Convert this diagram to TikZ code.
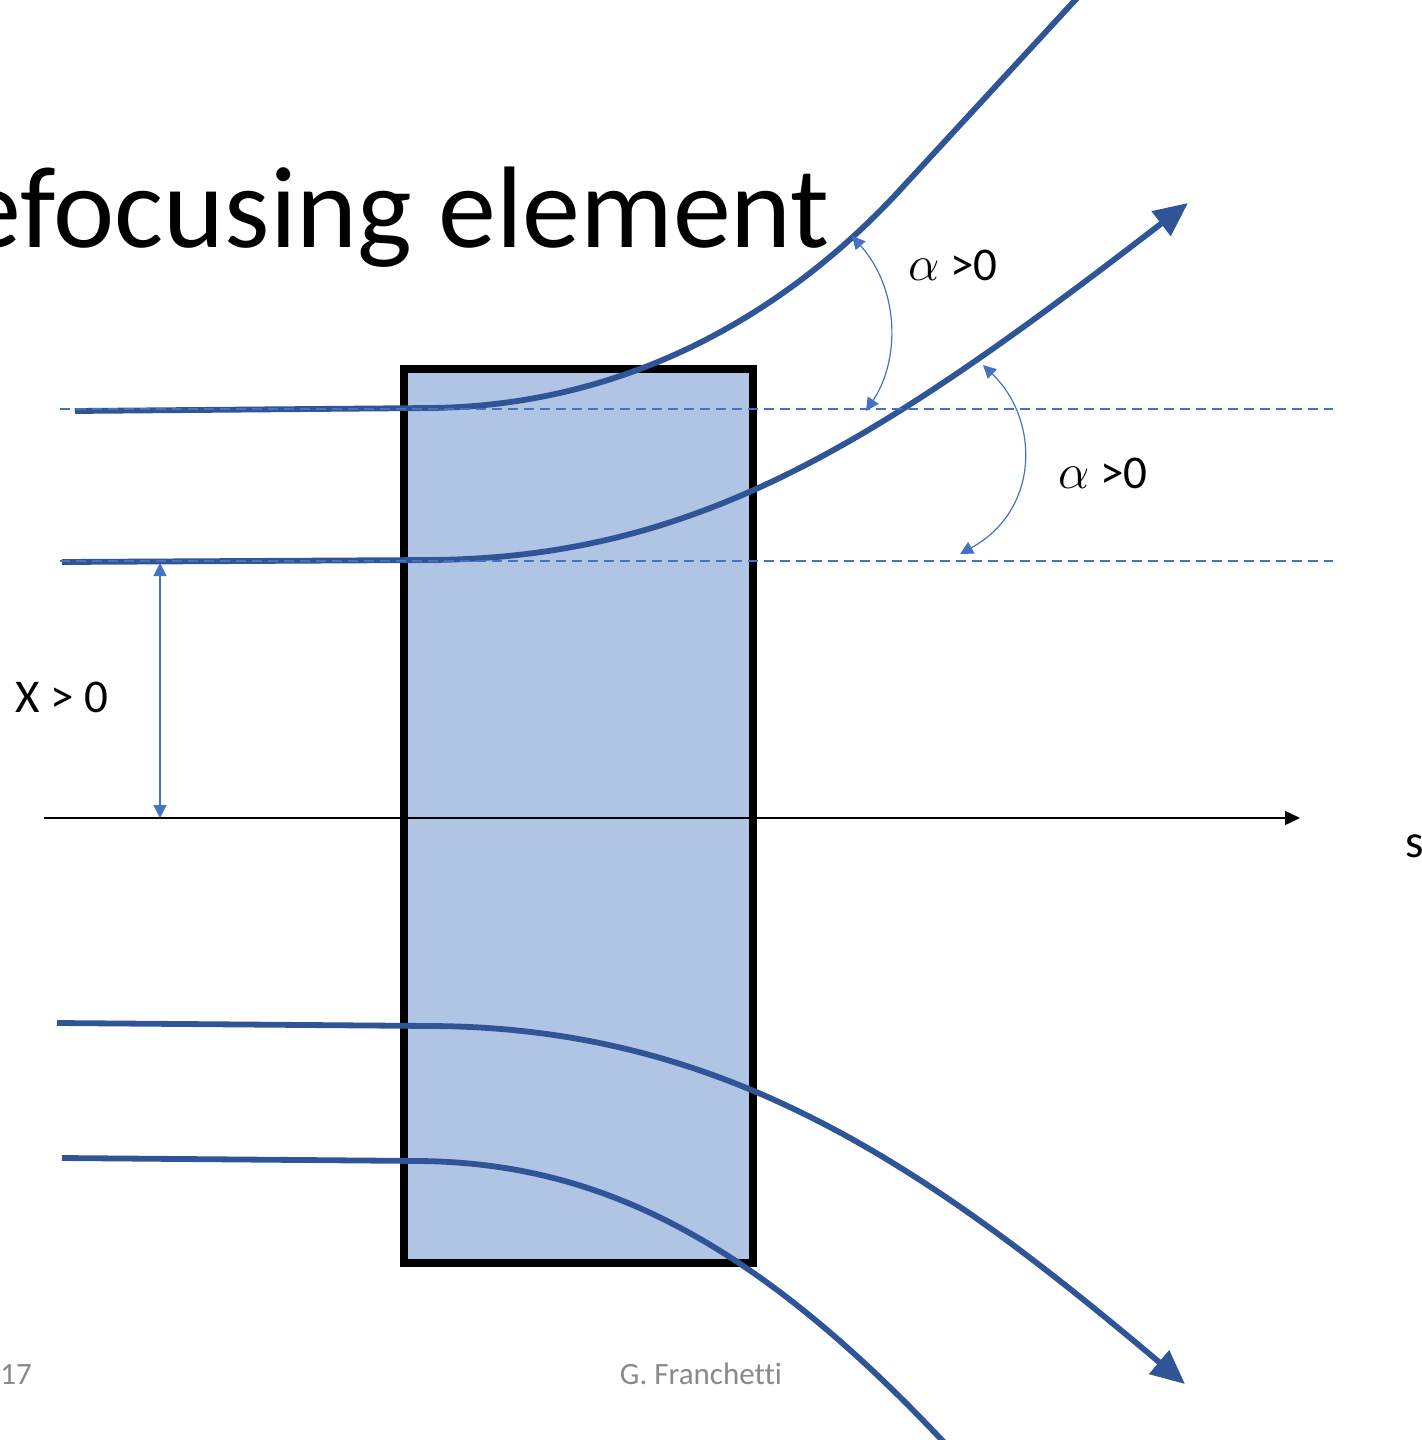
\documentclass[tikz,border=0pt]{standalone}
\usepackage{fontspec}
\setmainfont{Carlito}[Ligatures={NoCommon}]
\usetikzlibrary{arrows.meta}
\definecolor{beam}{HTML}{2F5597}
\definecolor{accent}{HTML}{4472C4}
\definecolor{magfill}{HTML}{B0C4E4}
\definecolor{footgray}{HTML}{898989}
\begin{document}
\begin{tikzpicture}[x=0.5pt,y=-0.5pt,
  beamline/.style={draw=beam, line width=2.9pt},
  beamarrow/.style={beamline, -{Triangle[length=17pt,width=15pt]}},
  refline/.style={draw=accent, line width=0.6pt, dash pattern=on 5pt off 3pt},
  dimarrow/.style={draw=accent, line width=0.6pt, {Triangle[length=6.5pt,width=6.5pt]}-{Triangle[length=6.5pt,width=6.5pt]}},
  axisline/.style={draw=black, line width=0.7pt, -{Triangle[length=7.5pt,width=7pt]}},
  magnet/.style={draw=black, fill=magfill, line width=4pt, inner sep=0pt, outer sep=0pt},
  lbl/.style={inner sep=0pt, font=\fontsize{23.5}{28}\selectfont},
  titletext/.style={inner sep=0pt, font=\fontsize{58}{64}\selectfont},
  foot/.style={inner sep=0pt, text=footgray, font=\fontsize{15.5}{18}\selectfont}]
\useasboundingbox (0,0) rectangle (1422,1440);
\clip (0,0) rectangle (1422,1440);

% title
\node[titletext, anchor=base east] (title) at (830,247) {efocusing element};

% magnet
\node[magnet, minimum width=174.5pt, minimum height=447pt] (mag) at (578.5,816) {};

% beam coordinates
\coordinate (b1s) at (75,411);
\coordinate (b1k) at (430,408);
\coordinate (b1m) at (900,190);
\coordinate (b1e) at (1090,-16);
\coordinate (b2s) at (62,562);
\coordinate (b2k) at (430,560);
\coordinate (b2e) at (1188,203);
\coordinate (b3s) at (57,1023);
\coordinate (b3k) at (430,1026);
\coordinate (b3e) at (1185,1384);
\coordinate (b4s) at (62,1158);
\coordinate (b4k) at (420,1161);
\coordinate (b4e) at (965,1465);

% beams
\draw[beamline] (b1s) -- (b1k) .. controls (620,406) and (780,320) .. (b1m) -- (b1e);
\draw[beamarrow] (b2s) -- (b2k) .. controls (700,558) and (880,440) .. (b2e);
\draw[beamarrow] (b3s) -- (b3k) .. controls (720,1027) and (920,1160) .. (b3e);
\draw[beamline] (b4s) -- (b4k) .. controls (600,1163) and (760,1240) .. (b4e);

% reference lines
\coordinate (r1s) at (60,409);
\coordinate (r1e) at (1333,409);
\coordinate (r2s) at (60,561);
\coordinate (r2e) at (1333,561);
\draw[refline] (r1s) -- (r1e);
\draw[refline] (r2s) -- (r2e);

% s axis
\coordinate (ax0) at (44,818);
\coordinate (ax1) at (1300,818);
\draw[axisline] (ax0) -- (ax1);
\node[lbl, anchor=base west] (slbl) at (1405,857) {s};

% X > 0
\coordinate (xs) at (160,563);
\coordinate (xe) at (160,818);
\draw[dimarrow] (xs) -- (xe);
\node[lbl] (xlbl) at (62,697) {X > 0};

% angle arcs
\coordinate (a1s) at (852,236);
\coordinate (a1e) at (866,411);
\draw[dimarrow] (a1s) .. controls (900,290) and (900,360) .. (a1e);
\node[lbl] (a1lbl) at (953,265) {$\alpha$ >0};

\coordinate (a2s) at (983,365);
\coordinate (a2e) at (960,554);
\draw[dimarrow] (a2s) .. controls (1040,420) and (1040,510) .. (a2e);
\node[lbl] (a2lbl) at (1103,473) {$\alpha$ >0};

% footer
\node[foot, anchor=base west] (pg) at (0,1384) {17};
\node[foot, anchor=base] (auth) at (701,1384) {G. Franchetti};
\end{tikzpicture}
\end{document}
